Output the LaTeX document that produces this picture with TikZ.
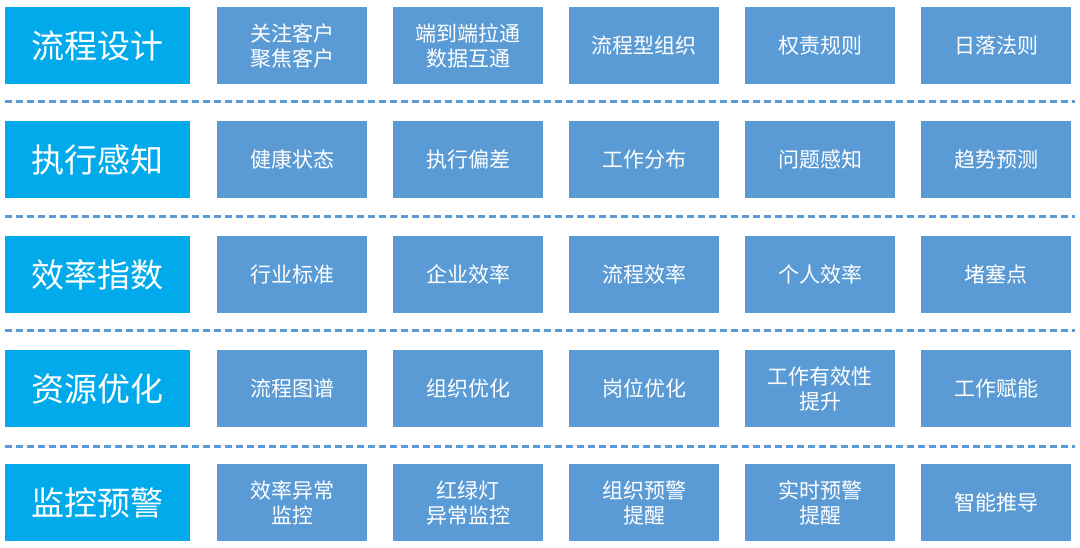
\documentclass[tikz,border=0pt]{standalone}
\usepackage{fontspec}
\newfontfamily\cjk{Noto Sans CJK SC}
\begin{document}
\begin{tikzpicture}[x=1pt,y=-1pt,
  head/.style={fill={rgb,255:red,0;green,170;blue,235}, draw=none, minimum width=185pt, minimum height=77pt, anchor=north west, inner sep=0pt, text=white, font=\cjk\fontsize{33}{36}\selectfont},
  cell/.style={fill={rgb,255:red,91;green,155;blue,213}, draw=none, minimum width=150pt, minimum height=77pt, anchor=north west, inner sep=0pt, text=white, align=center, font=\cjk\fontsize{21}{25}\selectfont},
  sep/.style={draw={rgb,255:red,91;green,155;blue,213}, line width=3pt, dash pattern=on 7pt off 4pt}]
\useasboundingbox (0,0) rectangle (1080,548);
\foreach \r/\y/\h/\a/\b/\c/\d/\e in {
 1/7/流程设计/{关注客户\\聚焦客户}/{端到端拉通\\数据互通}/流程型组织/权责规则/日落法则,
 2/121/执行感知/健康状态/执行偏差/工作分布/问题感知/趋势预测,
 3/236/效率指数/行业标准/企业效率/流程效率/个人效率/堵塞点,
 4/350/资源优化/流程图谱/组织优化/岗位优化/{工作有效性\\提升}/工作赋能,
 5/464/监控预警/{效率异常\\监控}/{红绿灯\\异常监控}/{组织预警\\提醒}/{实时预警\\提醒}/智能推导}{
  \node[head] (h\r) at (5,\y) {\h};
  \node[cell] (a\r) at (217,\y) {\a};
  \node[cell] (b\r) at (393,\y) {\b};
  \node[cell] (c\r) at (569,\y) {\c};
  \node[cell] (d\r) at (745,\y) {\d};
  \node[cell] (e\r) at (921,\y) {\e};
}
\foreach \y in {102,217,331,446}{
  \draw[sep] (5,\y) -- (1075,\y);
}
\end{tikzpicture}
\end{document}
